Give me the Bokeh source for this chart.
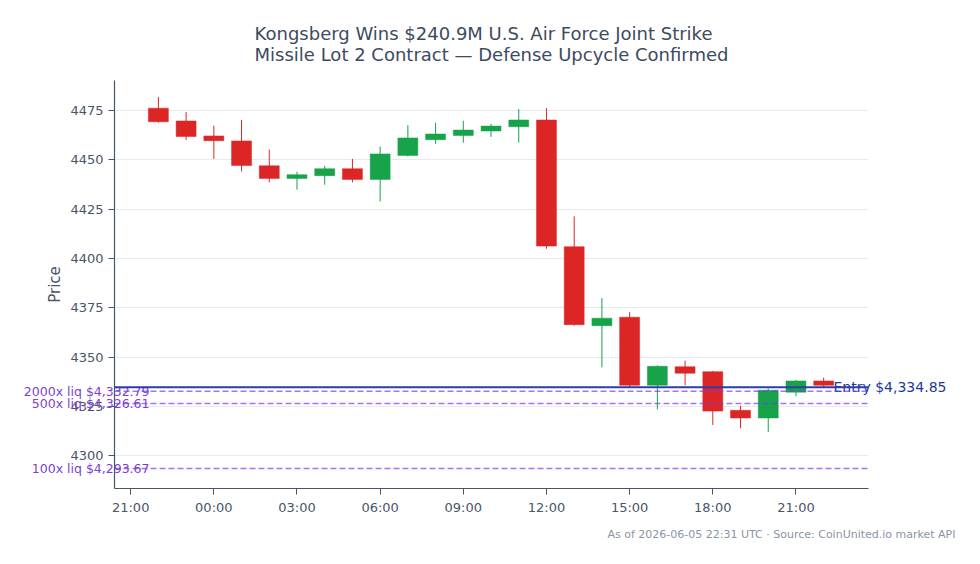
import pandas as pd
from bokeh.plotting import figure
from bokeh.models import (Range1d, FixedTicker, DatetimeTickFormatter, Span, LinearAxis,
                          ColumnDataSource, Title, SingleIntervalTicker)
from bokeh.embed import file_html
from bokeh.resources import INLINE

title_line1 = "Kongsberg Wins $240.9M U.S. Air Force Joint Strike"
title_line2 = "Missile Lot 2 Contract \u2014 Defense Upcycle Confirmed"
footer_text = "As of 2026-06-05 22:31 UTC \u00b7 Source: CoinUnited.io market API"

times = ["2026-06-04 22:00", "2026-06-04 23:00", "2026-06-05 00:00", "2026-06-05 01:00",
         "2026-06-05 02:00", "2026-06-05 03:00", "2026-06-05 04:00", "2026-06-05 05:00",
         "2026-06-05 06:00", "2026-06-05 07:00", "2026-06-05 08:00", "2026-06-05 09:00",
         "2026-06-05 10:00", "2026-06-05 11:00", "2026-06-05 12:00", "2026-06-05 13:00",
         "2026-06-05 14:00", "2026-06-05 15:00", "2026-06-05 16:00", "2026-06-05 17:00",
         "2026-06-05 18:00", "2026-06-05 19:00", "2026-06-05 20:00", "2026-06-05 21:00",
         "2026-06-05 22:00"]
opens = [4476.2, 4469.7, 4462.1, 4459.6, 4447.0, 4440.6, 4442.0, 4445.5, 4440.1, 4452.2,
         4460.2, 4462.3, 4464.6, 4466.8, 4470.2, 4406.0, 4366.0, 4370.3, 4335.8, 4345.2,
         4342.7, 4323.1, 4319.2, 4332.3, 4338.0]
closes = [4469.3, 4461.8, 4459.7, 4447.1, 4440.6, 4442.5, 4445.5, 4440.1, 4453.0, 4461.1,
          4463.1, 4465.1, 4467.1, 4470.2, 4406.3, 4366.5, 4369.8, 4335.8, 4345.4, 4341.9,
          4322.7, 4319.2, 4333.3, 4338.0, 4335.8]
highs = [4481.9, 4474.2, 4467.3, 4470.2, 4455.2, 4444.0, 4447.0, 4450.5, 4456.7, 4467.6,
         4468.8, 4469.8, 4468.3, 4475.7, 4476.2, 4421.4, 4380.0, 4372.9, 4345.9, 4348.3,
         4343.0, 4325.4, 4334.1, 4338.5, 4339.7]
lows = [4468.8, 4460.1, 4450.5, 4444.1, 4438.6, 4434.9, 4437.4, 4438.6, 4428.9, 4451.7,
        4458.1, 4458.7, 4461.6, 4458.7, 4405.0, 4366.0, 4344.9, 4334.5, 4323.6, 4335.8,
        4315.7, 4314.0, 4312.1, 4330.3, 4334.5]

entry_price = 4334.85
entry_label = "Entry $4,334.85"
liq_prices = [4332.79, 4326.61, 4293.67]
liq_labels = ["2000x liq $4,332.79", "500x liq $4,326.61", "100x liq $4,293.67"]

x_start = "2026-06-04 20:25"
x_end = "2026-06-05 23:37"
y_start, y_end = 4283.5, 4490.2
tick_times = ["2026-06-04 21:00", "2026-06-05 00:00", "2026-06-05 03:00", "2026-06-05 06:00",
              "2026-06-05 09:00", "2026-06-05 12:00", "2026-06-05 15:00", "2026-06-05 18:00",
              "2026-06-05 21:00"]

UP = "#16a34a"
DOWN = "#dc2626"
TEXT = "#4a5568"
TITLE_C = "#3d4b5f"
FONT = "DejaVu Sans"

def ms(t):
    return pd.Timestamp(t).value / 1e6

xs = [ms(t) for t in times]
colors = [UP if c >= o else DOWN for o, c in zip(opens, closes)]
src = ColumnDataSource(dict(
    x=xs,
    top=[max(o, c) for o, c in zip(opens, closes)],
    bottom=[min(o, c) for o, c in zip(opens, closes)],
    high=highs, low=lows, color=colors))

p = figure(width=980, height=564, x_axis_type="datetime",
           x_range=Range1d(ms(x_start), ms(x_end)), y_range=Range1d(y_start, y_end),
           output_backend="svg", toolbar_location=None,
           min_border_left=114, min_border_right=112, min_border_top=80, min_border_bottom=76)
p.outline_line_color = None
p.background_fill_color = "white"
p.border_fill_color = "white"

p.title = Title(text=title_line1 + "\n" + title_line2, align="center", text_font=FONT,
                text_font_size="18px", text_font_style="normal", text_color=TITLE_C,
                standoff=31)

p.segment(x0="x", x1="x", y0="low", y1="high", line_color="color", line_width=1, source=src)
p.vbar(x="x", width=0.72 * 3600000, top="top", bottom="bottom", fill_color="color",
       line_color="color", line_width=0.5, source=src)

for lp in liq_prices:
    p.add_layout(Span(location=lp, dimension="width", line_color="#7c3aed", line_alpha=0.7,
                      line_width=1.5, line_dash="6 3"))

p.add_layout(Span(location=entry_price, dimension="width", line_color="#2b3ea8",
                  line_width=2))

p.xaxis.ticker = FixedTicker(ticks=[ms(t) for t in tick_times])
p.xaxis.formatter = DatetimeTickFormatter(hours="%H:%M", days="%H:%M", minutes="%H:%M")
p.yaxis.ticker = SingleIntervalTicker(interval=25)
p.yaxis.axis_label = "Price"
p.yaxis.axis_label_text_font_style = "normal"
p.yaxis.axis_label_standoff = 3
for ax in (p.xaxis, p.yaxis):
    ax.axis_line_color = TEXT
    ax.axis_line_width = 1.2
    ax.major_tick_line_color = TEXT
    ax.minor_tick_line_color = None
    ax.major_tick_in = 0
    ax.major_tick_out = 6
    ax.major_label_text_font = FONT
    ax.major_label_text_font_size = "13px"
    ax.major_label_text_color = TEXT
    ax.axis_label_text_font = FONT
    ax.axis_label_text_font_size = "15px"
    ax.axis_label_text_color = TEXT

# label-only axes carrying the liquidation / entry annotations
liq_axis = LinearAxis(ticker=FixedTicker(ticks=liq_prices),
                      major_label_overrides={k: v for k, v in zip(liq_prices, liq_labels)},
                      axis_line_color=None, major_tick_line_color=None,
                      minor_tick_line_color=None, major_tick_out=0, major_tick_in=0,
                      major_label_standoff=-106, major_label_text_color="#7b3fd6",
                      major_label_text_font=FONT, major_label_text_font_size="12.5px")
p.add_layout(liq_axis, "left")

entry_axis = LinearAxis(ticker=FixedTicker(ticks=[entry_price]),
                        major_label_overrides={entry_price: entry_label},
                        axis_line_color=None, major_tick_line_color=None,
                        minor_tick_line_color=None, major_tick_out=0, major_tick_in=0,
                        major_label_standoff=-35, major_label_text_color="#23399e",
                        major_label_text_font=FONT, major_label_text_font_size="14px")
p.add_layout(entry_axis, "right")

footer = Title(text=footer_text, align="right", offset=-87, text_font=FONT,
               text_font_size="11px", text_font_style="normal", text_color="#8a94a6",
               standoff=16)
p.add_layout(footer, "below")

p.xgrid.visible = False
p.ygrid.grid_line_color = "#e8eaee"
p.ygrid.grid_line_width = 1

open("out.html", "w").write(file_html(p, INLINE))
